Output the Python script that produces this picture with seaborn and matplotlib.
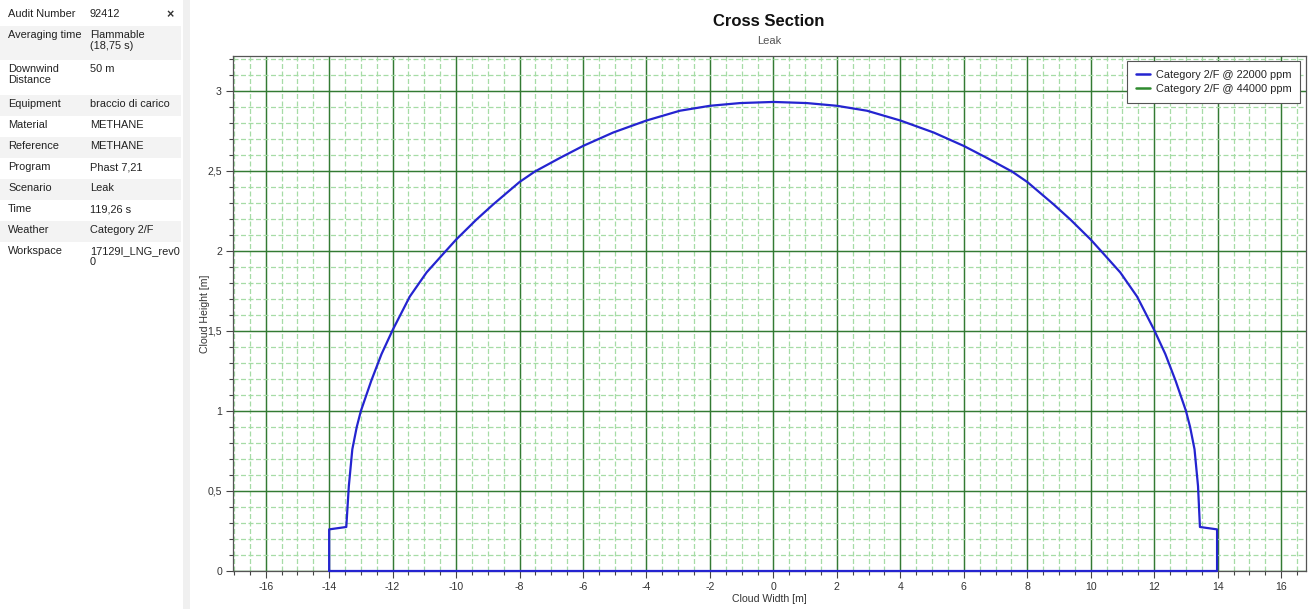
import matplotlib
matplotlib.use("Agg")
import numpy as np
import pandas as pd
import seaborn as sns
import matplotlib.pyplot as plt
from matplotlib.lines import Line2D
from matplotlib.patches import Rectangle
from matplotlib.ticker import MultipleLocator, FuncFormatter

# --- data ---
cloud_width = [-14.0, -14.0, -13.46, -13.38, -13.27, -13.13, -13.0, -12.67, -12.35, -12.0,
               -11.46, -10.93, -10.41, -10.0, -9.36, -8.83, -8.0, -7.52, -6.73, -6.0,
               -5.05, -4.0, -2.95, -2.0, -1.05, 0.0,
               1.05, 2.0, 2.95, 4.0, 5.05, 6.0, 6.73, 7.52, 8.0, 8.83, 9.36, 10.0,
               10.41, 10.93, 11.46, 12.0, 12.35, 12.67, 13.0, 13.13, 13.27, 13.38, 13.44,
               13.98, 13.98, -14.0]
cloud_height = [0.0, 0.26, 0.275, 0.53, 0.76, 0.90, 1.0, 1.19, 1.355, 1.505,
                1.714, 1.865, 1.98, 2.07, 2.195, 2.29, 2.43, 2.495, 2.58, 2.655,
                2.739, 2.814, 2.875, 2.906, 2.923, 2.93,
                2.923, 2.906, 2.875, 2.814, 2.739, 2.655, 2.58, 2.495, 2.43, 2.29, 2.195, 2.07,
                1.98, 1.865, 1.714, 1.505, 1.355, 1.19, 1.0, 0.90, 0.76, 0.53, 0.275,
                0.26, 0.0, 0.0]
series_labels = ["Category 2/F @ 22000 ppm", "Category 2/F @ 44000 ppm"]
series_colors = ["#2424d0", "#2e8b2e"]

info_keys = ["Audit Number", "Averaging time", "Downwind\nDistance", "Equipment", "Material",
             "Reference", "Program", "Scenario", "Time", "Weather", "Workspace"]
info_values = ["92412", "Flammable\n(18,75 s)", "50 m", "braccio di carico", "METHANE",
               "METHANE", "Phast 7,21", "Leak", "119,26 s", "Category 2/F", "17129I_LNG_rev0\n0"]
# row top/bottom in pixels
info_rows = [(5, 26), (26, 60), (60, 95), (95, 116), (116, 137), (137, 158), (158, 179),
             (179, 200), (200, 221), (221, 242), (242, 276)]

sns.set_theme(style="white")
plt.rcParams['font.family'] = ['Liberation Sans', 'DejaVu Sans']

W, H = 1311, 609
fig = plt.figure(figsize=(W / 100, H / 100), dpi=100)
fig.patch.set_facecolor("white")

# left property panel
fig.patches.append(Rectangle((183 / W, 0), 7 / W, 1, transform=fig.transFigure,
                             facecolor="#f0f0f0", edgecolor="none"))
for i, (k, v, (r0, r1)) in enumerate(zip(info_keys, info_values, info_rows)):
    if i % 2 == 1:
        fig.patches.append(Rectangle((0, 1 - r1 / H), 181 / W, (r1 - r0) / H,
                                     transform=fig.transFigure, facecolor="#f3f3f3",
                                     edgecolor="none"))
    fig.text(8 / W, 1 - (r0 + 4) / H, k, fontsize=7.9, color="#222222", va="top",
             linespacing=1.15)
    fig.text(90 / W, 1 - (r0 + 4) / H, v, fontsize=7.9, color="#222222", va="top",
             linespacing=1.15)
fig.text(170 / W, 1 - 15 / H, "×", fontsize=9, fontweight="bold", color="#333333",
         ha="center", va="center")

# chart
ax = fig.add_axes([233 / W, 1 - 571 / H, (1305.6 - 233) / W, (571 - 56) / H])
df = pd.DataFrame({"Cloud Width [m]": cloud_width, "Cloud Height [m]": cloud_height})
sns.lineplot(data=df, x="Cloud Width [m]", y="Cloud Height [m]", sort=False, estimator=None,
             color=series_colors[0], linewidth=1.6, ax=ax, zorder=5, clip_on=False)

ax.set_xlim(-17.03, 16.77)
ax.set_ylim(0, 3.217)
ax.xaxis.set_major_locator(MultipleLocator(2))
ax.xaxis.set_minor_locator(MultipleLocator(0.5))
ax.yaxis.set_major_locator(MultipleLocator(0.5))
ax.yaxis.set_minor_locator(MultipleLocator(0.1))
fmt = FuncFormatter(lambda v, p: ("%g" % round(v, 2)).replace(".", ","))
ax.xaxis.set_major_formatter(fmt)
ax.yaxis.set_major_formatter(fmt)

ax.tick_params(which="major", direction="out", length=5, width=0.8, color="#444444",
               labelsize=7.6, labelcolor="#333333", bottom=True, left=True, pad=3,
               grid_color="#337a33", grid_linewidth=1.05, grid_linestyle="-", grid_alpha=1,
               grid_zorder=1)
ax.tick_params(which="minor", direction="out", length=3, width=0.8, color="#444444",
               bottom=True, left=True,
               grid_color="#a6dca6", grid_linewidth=0.9, grid_linestyle=(0, (4, 2)),
               grid_alpha=1, grid_zorder=0.5)
ax.grid(True, which="major")
ax.grid(True, which="minor")
ax.set_axisbelow(True)
for s in ax.spines.values():
    s.set_color("#555555")
    s.set_linewidth(0.9)

ax.set_xlabel("Cloud Width [m]", fontsize=7.6, color="#333333", labelpad=1)
ax.set_ylabel("Cloud Height [m]", fontsize=7.6, color="#333333")
ax.yaxis.set_label_coords(-0.0215, 0.5)

fig.text(769 / W, 1 - 22 / H, "Cross Section", fontsize=12, fontweight="bold",
         color="#111111", ha="center", va="center")
fig.text(769 / W, 1 - 41 / H, "Leak", fontsize=8, color="#555555", ha="center", va="center")

handles = [Line2D([], [], color=c, linewidth=1.8) for c in series_colors]
leg = ax.legend(handles, series_labels, loc="upper right", fontsize=7.9, frameon=True,
                fancybox=False, framealpha=1, edgecolor="#555555", borderpad=0.8,
                handlelength=1.3, handletextpad=0.5, labelspacing=0.35,
                borderaxespad=0.5)
leg.get_frame().set_linewidth(0.8)

fig.savefig("out.png", dpi=100)
